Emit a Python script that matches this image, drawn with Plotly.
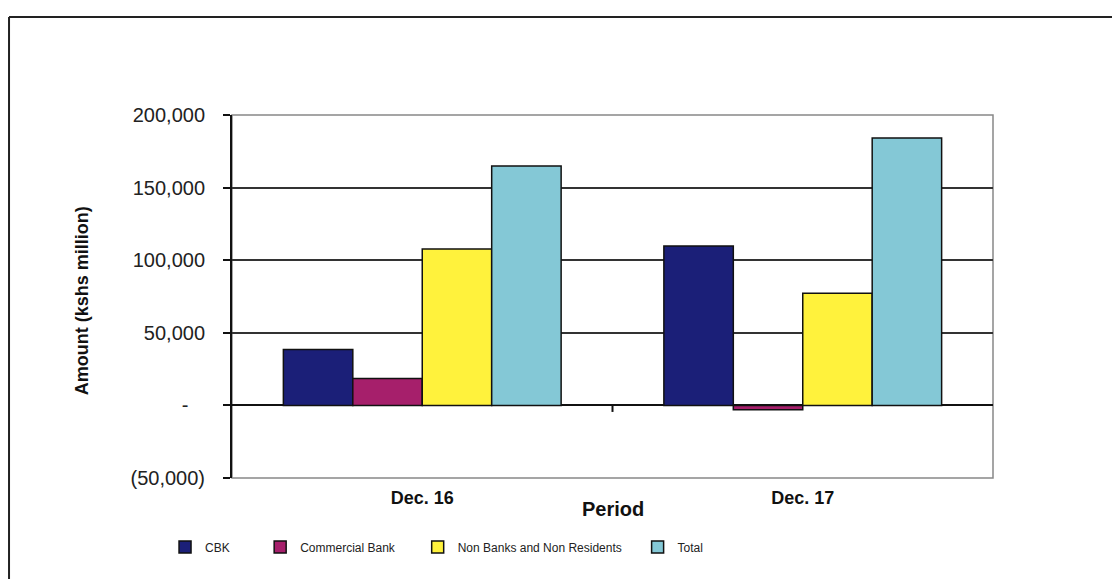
import plotly.graph_objects as go

periods = ['Dec. 16', 'Dec. 17']
series_names = ['CBK', 'Commercial Bank', 'Non Banks and Non Residents', 'Total']
cbk = [38500, 109800]
commercial_bank = [18600, -3000]
non_banks = [107700, 77300]
total = [164800, 184100]

y_tickvals = [-50000, 0, 50000, 100000, 150000, 200000]
y_ticktext = ['(50,000)', '-\u00a0\u00a0\u00a0', '50,000', '100,000', '150,000', '200,000']

colors = ['#1b1f78', '#a61f6b', '#fff23c', '#84c8d6']
values = [cbk, commercial_bank, non_banks, total]
legend_ids = ['legend', 'legend2', 'legend3', 'legend4']
legend_x = [-0.088, 0.037, 0.244, 0.533]

FONT = 'Arial, Liberation Sans, sans-serif'

fig = go.Figure()
for name, vals, col, lg in zip(series_names, values, colors, legend_ids):
    fig.add_trace(go.Bar(x=periods, y=vals, name=name, legend=lg,
                         marker=dict(color=col, line=dict(color='#111111', width=1.5))))

legend_style = dict(orientation='h', y=-0.19, yanchor='middle', xanchor='left',
                    font=dict(family=FONT, size=12, color='#222222'),
                    bgcolor='rgba(0,0,0,0)')

# page body has an 8px margin, so the figure is drawn 8px smaller
fig.update_layout(
    width=1112, height=571,
    margin=dict(l=224, r=127, t=107, b=101),
    paper_bgcolor='white', plot_bgcolor='white',
    showlegend=True,
    barmode='group', bargap=0.27, bargroupgap=0,
    font=dict(family=FONT, color='#222222'),
    xaxis=dict(
        showgrid=False, showline=False, ticks='', zeroline=False,
        tickfont=dict(family=FONT, size=18, color='#111111', weight='bold'),
        ticklabelstandoff=7,
    ),
    yaxis=dict(
        range=[-50000, 200000],
        tickvals=y_tickvals, ticktext=y_ticktext,
        tickfont=dict(family=FONT, size=20, color='#222222'),
        showgrid=True, gridcolor='#333333', gridwidth=1.5,
        zeroline=True, zerolinecolor='#111111', zerolinewidth=2,
        showline=True, linecolor='#111111', linewidth=2,
        ticks='outside', ticklen=7, tickcolor='#111111', tickwidth=2,
        ticklabelstandoff=14,
    ),
    legend=dict(x=legend_x[0], **legend_style),
    legend2=dict(x=legend_x[1], **legend_style),
    legend3=dict(x=legend_x[2], **legend_style),
    legend4=dict(x=legend_x[3], **legend_style),
    annotations=[
        dict(text='<b>Period</b>', xref='paper', yref='paper', x=0.5, y=-0.085,
             xanchor='center', yanchor='middle', showarrow=False,
             font=dict(family=FONT, size=20, color='#111111')),
        dict(text='<b>Amount (kshs million)</b>', xref='paper', yref='paper',
             x=-0.197, y=0.487, xanchor='center', yanchor='middle', textangle=-90,
             showarrow=False, font=dict(family=FONT, size=18, color='#111111')),
    ],
    shapes=[
        # plot area border
        dict(type='rect', xref='paper', yref='paper', x0=0, x1=1, y0=0, y1=1,
             line=dict(color='#888888', width=1.5), layer='below'),
        # category divider tick on the zero line
        dict(type='line', xref='paper', yref='y', x0=0.5, x1=0.5, y0=0, y1=-4500,
             line=dict(color='#111111', width=2)),
        # outer chart frame
        dict(type='line', xref='paper', yref='paper', x0=-0.293, x1=-0.293, y0=-0.5, y1=1.27,
             line=dict(color='#222222', width=2)),
        dict(type='line', xref='paper', yref='paper', x0=-0.293, x1=1.4, y0=1.27, y1=1.27,
             line=dict(color='#222222', width=2)),
    ],
)

fig.write_html('out.html')
